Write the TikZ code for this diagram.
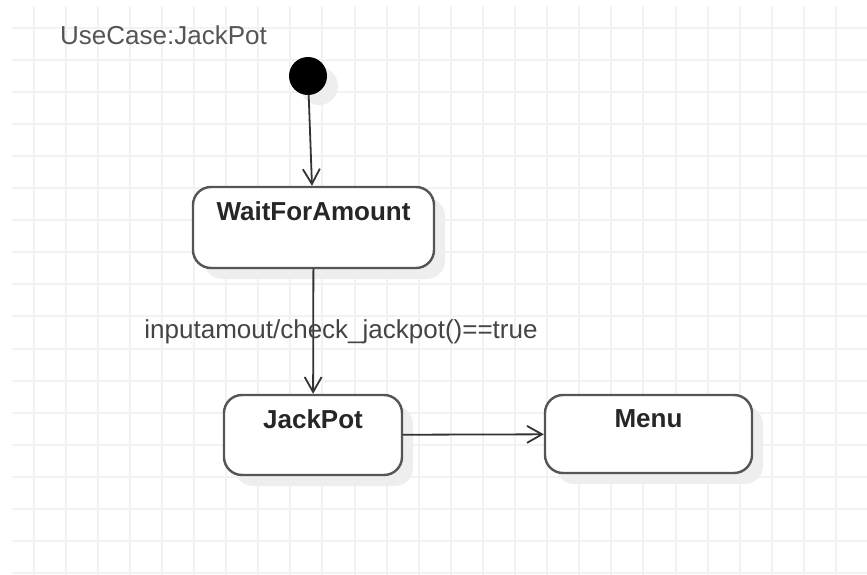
\documentclass[tikz,border=0pt]{standalone}
\usepackage{fontspec}
\setmainfont{Liberation Sans}
\usetikzlibrary{arrows.meta,shadows}
\definecolor{rastergrijs}{HTML}{F2F2F2}
\definecolor{randgrijs}{HTML}{555555}
\definecolor{tekstgrijs}{HTML}{444444}
\definecolor{schaduw}{HTML}{EEEEEE}

\begin{document}
\begin{tikzpicture}[x=1pt, y=-1pt, line cap=round]
  \tikzset{toestand/.style={draw=randgrijs, line width=2.4pt, rounded corners=18pt, fill=white, inner sep=0pt,
      drop shadow={shadow xshift=11pt, shadow yshift=-11pt, fill=schaduw, opacity=1}},
    naam/.style={anchor=north, yshift=-12pt, font=\fontsize{26}{30}\selectfont\bfseries, text=black!85},
    overgang/.style={draw=black!80, line width=1.8pt, -{Straight Barb[length=15pt, width=17pt, line width=1.8pt]}}}
  \useasboundingbox (0,0) rectangle (867,575);
  % raster
  \foreach \i in {0,...,25} \draw[rastergrijs, line width=2pt] (33.5+32.1*\i,7) -- (33.5+32.1*\i,575);
  \foreach \j in {0,...,17} \draw[rastergrijs, line width=2pt] (13,28+32.05*\j) -- (867,28+32.05*\j);
  % titel
  \node[anchor=base west, inner sep=0pt, text=randgrijs, font=\fontsize{26}{30}\selectfont] (titel) at (60,45) {UseCase:JackPot};
  % begintoestand
  \node[circle, fill=black, minimum size=38pt, inner sep=0pt,
    drop shadow={shadow xshift=11pt, shadow yshift=-10pt, fill=schaduw, opacity=1}] (start) at (308,76) {};
  % toestanden
  \node[toestand, minimum width=241pt, minimum height=81pt, label={[naam]north:WaitForAmount}] (wacht) at (313.5,227.5) {};
  \node[toestand, minimum width=178pt, minimum height=80pt, label={[naam]north:JackPot}] (jackpot) at (313,435) {};
  \node[toestand, minimum width=207pt, minimum height=78pt, label={[naam]north:Menu}] (menu) at (648.5,434) {};
  % overgangen
  \draw[overgang] (start) -- (wacht);
  \draw[overgang] (wacht) -- (jackpot);
  \draw[overgang] (jackpot) -- (menu);
  \node[anchor=base, text=tekstgrijs, font=\fontsize{26}{30}\selectfont] (voorwaarde) at (341,338) {inputamout/check\_jackpot()==true};
\end{tikzpicture}
\end{document}
